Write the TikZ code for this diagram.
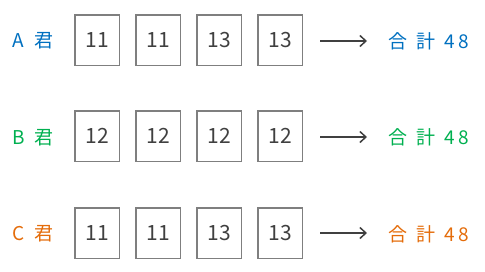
\documentclass[tikz,border=0pt]{standalone}
\usepackage{fontspec}
\setmainfont{Noto Sans CJK JP}
\usetikzlibrary{arrows.meta}
\definecolor{cA}{HTML}{0070C0}
\definecolor{cB}{HTML}{00B050}
\definecolor{cC}{HTML}{E46C0A}
\definecolor{boxgray}{HTML}{7F7F7F}
\definecolor{txtgray}{HTML}{404040}
\begin{document}
\begin{tikzpicture}[x=1pt,y=1pt,
  numbox/.style={draw=boxgray,line width=1.5pt,minimum width=44.5pt,minimum height=50.5pt,inner sep=0pt,
    text=txtgray,font=\fontsize{21}{21}\selectfont},
  who/.style={font=\fontsize{19}{19}\selectfont,anchor=center},
  total/.style={font=\fontsize{19}{19}\selectfont,anchor=west},
  arr/.style={draw=txtgray,line width=1.5pt,-{Straight Barb[length=6pt,width=11pt,line width=1.5pt]}}]
\useasboundingbox (0,0) rectangle (485,-271);
% row A
\node[who,text=cA] (la) at (33,-41) {A\hspace{0.5em}君};
\node[numbox] (a1) at (97,-40) {11};
\node[numbox] (a2) at (158,-40) {11};
\node[numbox] (a3) at (219,-40) {13};
\node[numbox] (a4) at (280,-40) {13};
\coordinate (as) at (320,-41);
\coordinate (ae) at (367,-41);
\draw[arr] (as) -- (ae);
\node[total,text=cA] (ta) at (385,-41) {合\hspace{0.45em}計\hspace{0.5em}4\hspace{0.2em}8};
% row B
\node[who,text=cB] (lb) at (33,-138) {B\hspace{0.5em}君};
\node[numbox] (b1) at (97,-136) {12};
\node[numbox] (b2) at (158,-136) {12};
\node[numbox] (b3) at (219,-136) {12};
\node[numbox] (b4) at (280,-136) {12};
\coordinate (bs) at (320,-137);
\coordinate (be) at (367,-137);
\draw[arr] (bs) -- (be);
\node[total,text=cB] (tb) at (385,-137) {合\hspace{0.45em}計\hspace{0.5em}4\hspace{0.2em}8};
% row C
\node[who,text=cC] (lc) at (33,-234) {C\hspace{0.5em}君};
\node[numbox] (c1) at (97,-233) {11};
\node[numbox] (c2) at (158,-233) {11};
\node[numbox] (c3) at (219,-233) {13};
\node[numbox] (c4) at (280,-233) {13};
\coordinate (cs) at (320,-233);
\coordinate (ce) at (367,-233);
\draw[arr] (cs) -- (ce);
\node[total,text=cC] (tc) at (385,-234) {合\hspace{0.45em}計\hspace{0.5em}4\hspace{0.2em}8};
\end{tikzpicture}
\end{document}
